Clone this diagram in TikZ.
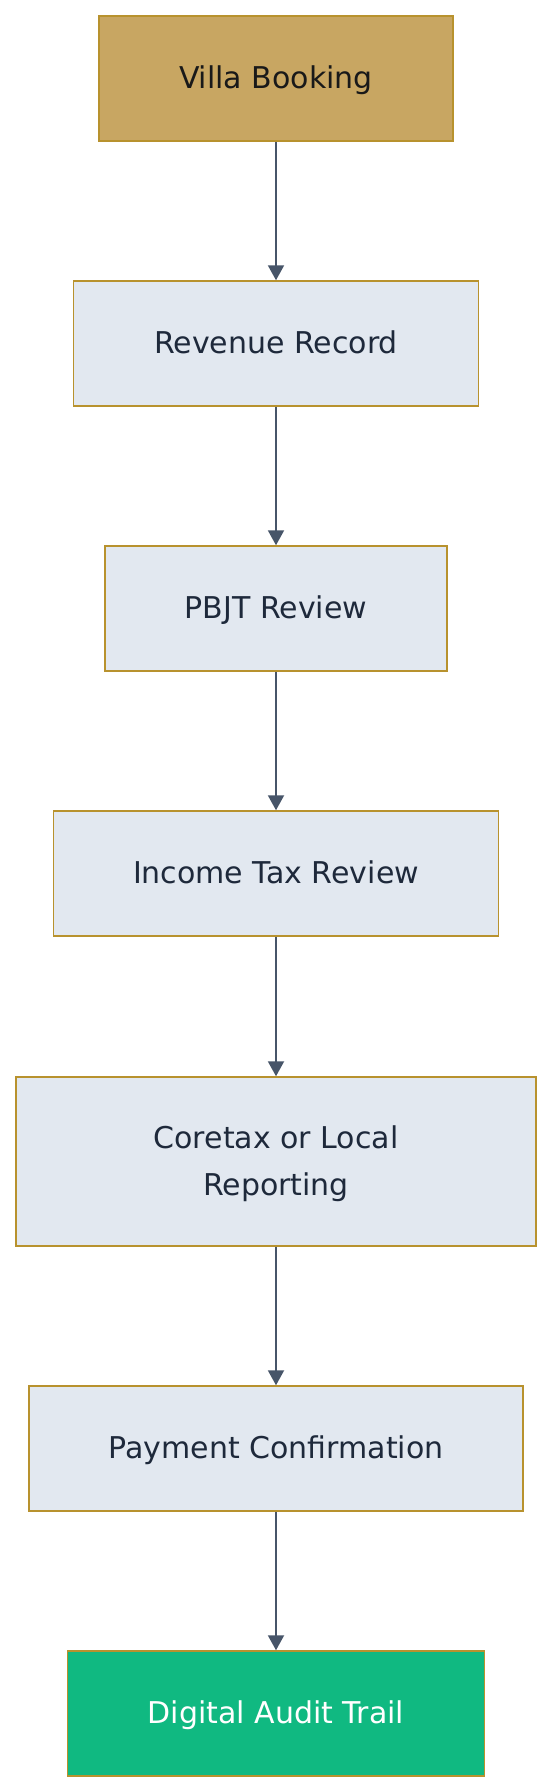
\documentclass[tikz,border=0pt]{standalone}
\usepackage{fontspec}
\setmainfont{DejaVu Sans}
\usetikzlibrary{arrows.meta}
\definecolor{goldfill}{HTML}{C8A662}
\definecolor{goldline}{HTML}{B8922E}
\definecolor{lightfill}{HTML}{E2E8F0}
\definecolor{darktext}{HTML}{1E293B}
\definecolor{arrowcol}{HTML}{475569}
\definecolor{greenfill}{HTML}{10B981}
\tikzset{
  box/.style={draw=goldline, line width=1.5pt, fill=lightfill, text=darktext,
    inner sep=0pt, minimum height=125pt, align=center,
    text height=23pt, text depth=3.4pt,
    font=\fontsize{30}{46.5}\selectfont},
  twoline/.style={text height=70pt, text depth=3pt},
  startbox/.style={box, fill=goldfill, text=black!90},
  endbox/.style={box, fill=greenfill, text=white},
  flow/.style={draw=arrowcol, line width=2pt, -{Triangle[width=16pt,length=15pt]}}
}
\begin{document}
\begin{tikzpicture}[x=1pt,y=-1pt]
\useasboundingbox (0,0) rectangle (552,1792);
\node[startbox, minimum width=354pt] (a) at (276,78.5) {Villa Booking};
\node[box, minimum width=405pt] (b) at (276,343.5) {Revenue Record};
\node[box, minimum width=342pt] (c) at (276,608.5) {PBJT Review};
\node[box, minimum width=445pt] (d) at (276,873.5) {Income Tax Review};
\node[box, twoline, minimum width=520pt, minimum height=169pt] (e) at (276,1161.5) {Coretax or Local\\Reporting};
\node[box, minimum width=494pt] (f) at (276,1448.5) {Payment Confirmation};
\node[endbox, minimum width=417pt] (g) at (276,1713.5) {Digital Audit Trail};
\draw[flow] (a) -- (b);
\draw[flow] (b) -- (c);
\draw[flow] (c) -- (d);
\draw[flow] (d) -- (e);
\draw[flow] (e) -- (f);
\draw[flow] (f) -- (g);
\end{tikzpicture}
\end{document}
